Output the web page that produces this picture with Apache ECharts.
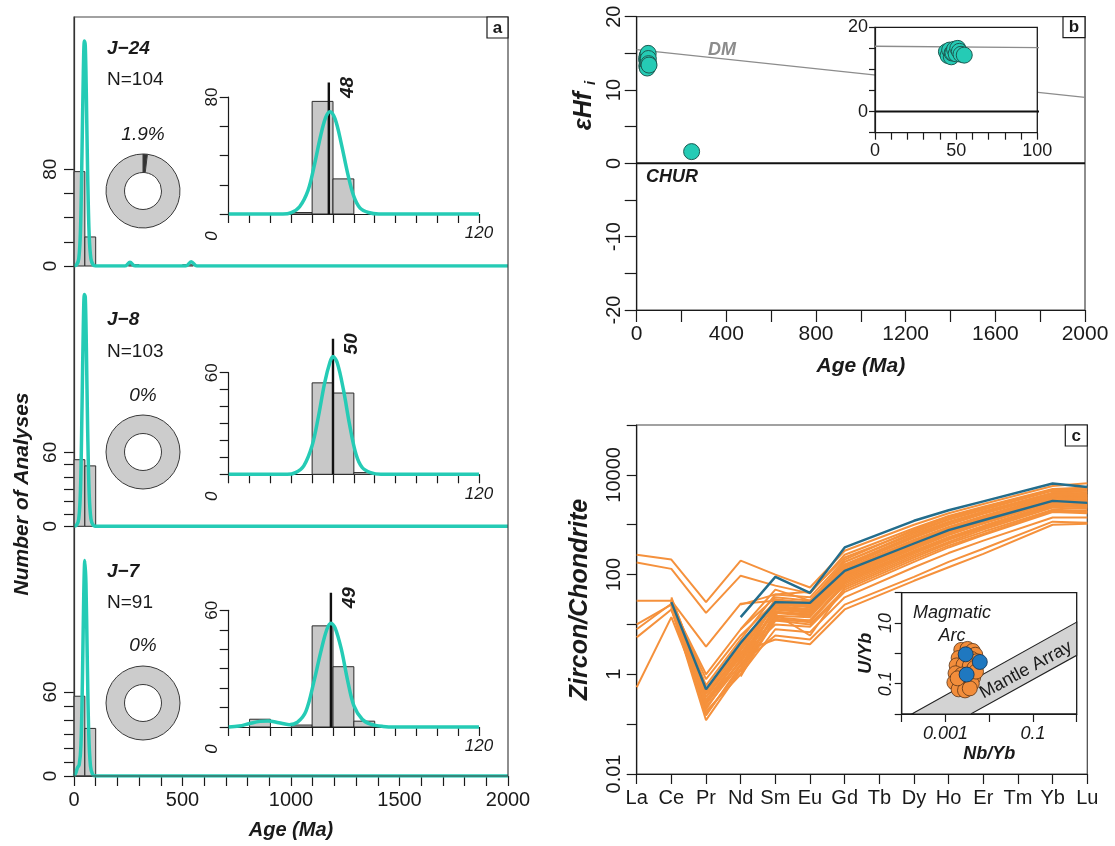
<!DOCTYPE html>
<html>
<head>
<meta charset="utf-8">
<title>Zircon U-Pb ages, Hf isotopes and REE patterns</title>
<script src="https://cdn.jsdelivr.net/npm/echarts@6/dist/echarts.min.js"></script>
<style>
  html, body { margin: 0; padding: 0; background: #fff; }
  #chart { width: 1115px; height: 846px; }
</style>
</head>
<body>
<div id="chart"></div>
<script>
// ---------- (a) detrital zircon U-Pb ages ----------
const sampleNames = ['J\u221224', 'J\u22128', 'J\u22127'];
const sampleN = [104, 103, 91];
const olderPct = [1.9, 0, 0];          // grains older than 100 Ma, %
const peakAges = [48, 50, 49];         // weighted mean ages, Ma

const mainBinWidth = 50;               // Ma
const j24MainCounts = [78, 24, 0, 0, 0, 1, 0, 0, 0, 0, 1];
const j8MainCounts = [54, 49];
const j7MainCounts = [57, 34];

const insetBinWidth = 10;              // Ma
const j24InsetCounts = [0, 0, 0, 1, 77, 24];
const j8InsetCounts = [0, 0, 0, 0, 54, 48, 1];
const j7InsetCounts = [0, 4, 0, 1, 52, 31, 3];

// probability density curves, [age (Ma), density scaled to counts]
const j24MainKde = [[0,0],[12,1],[22,6],[30,30],[37,95],[43,160],[48,186],[52,182],[57,140],[63,75],[70,25],[78,6],[88,1],[100,0],[235,0],[258,3],[282,0],[515,0],[540,3.5],[566,0],[2000,0]];
const j8MainKde = [[0,0],[12,1],[22,6],[30,30],[37,97],[43,163],[48,188],[52,186],[57,145],[63,78],[70,26],[78,6],[88,1],[100,0],[2000,0]];
const j7MainKde = [[0,0],[8,2],[16,6],[24,8],[32,22],[39,70],[45,130],[50,154],[55,138],[61,85],[68,30],[76,7],[86,1],[100,0],[2000,0]];
const j24InsetKde = [[0,0],[26,0],[30,1],[34,5],[38,16],[41,33],[44,53],[46.5,66],[48.5,70],[51,65],[54,48],[57,28],[60,12],[63,4],[67,1],[72,0],[120,0]];
const j8InsetKde = [[0,0],[28,0],[32,1],[36,5],[40,17],[43,34],[46,54],[48.5,66],[50,69.5],[52,66],[55,50],[58,29],[61,12],[64,4],[68,1],[73,0],[120,0]];
const j7InsetKde = [[0,0],[5,0.5],[10,1.8],[15,2.9],[19,3.1],[24,2.2],[29,1.2],[33,2.5],[37,8],[41,24],[44,38],[47,50],[49,53.3],[51,51],[54,40],[57,24],[60,11],[64,4],[68,1.5],[74,0.3],[80,0],[120,0]];

const ageTickLabels = [0, 500, 1000, 1500, 2000];
const countTicks24 = [0, 20, 40, 60, 80];
const countTicks = [0, 10, 20, 30, 40, 50, 60];
const countLabels24 = [0, 80];
const countLabels = [0, 60];
const insetAgeLabels = [120];

// ---------- (b) Hf isotopes ----------
const hfAges = [44, 45, 46, 47, 47.5, 48, 49, 50, 51, 52, 53, 55, 245];
const hfEps  = [14.2, 13.3, 14.6, 13.0, 13.9, 14.0, 14.8, 13.7, 15.0, 14.3, 13.6, 13.4, 1.6];
const dmAges = [0, 2000];
const dmEps = [15.5, 9.0];
const churAges = [0, 2000];
const churEps = [0, 0];
const hfAgeLabels = [0, 400, 800, 1200, 1600, 2000];
const hfEpsLabels = [-20, -10, 0, 10, 20];
const hfInsetAgeLabels = [0, 50, 100];
const hfInsetEpsLabels = [0, 20];

// ---------- (c) chondrite-normalised REE ----------
const reeElements = ['La','Ce','Pr','Nd','Sm','Eu','Gd','Tb','Dy','Ho','Er','Tm','Yb','Lu'];
const reeAxisLabels = [0.01, 1, 100, 10000];
const reeOrange = [
  [250, 200, 28, 190, 100, 55, 300, null, 1000, 1700, 2600, null, 6000, 6800],
  [175, 130, 17, 95, 60, 42, 250, null, 850, 1500, 2300, null, 5200, 5600],
  [30, 30, 3.6, 26, 30, 28, 180, null, 700, 1250, 2000, null, 4800, 4500],
  [10, 25, 1.0, 8, 35, 30, 160, null, 600, 1100, 1800, null, 4200, 4000],
  [8, 26, 0.8, 6, 28, 25, 130, null, 500, 900, 1500, null, 3800, 3600],
  [5.5, 20, 0.45, 4, 22, 20, 110, null, 420, 780, 1300, null, 3300, 3200],
  [0.55, 14, 0.25, 2.5, 18, 16, 90, null, 350, 650, 1100, null, 2900, 2800],
  [null, 32, 0.6, 5, 40, 35, 200, null, 800, 1400, 2200, null, 5000, 5200],
  [null, 28, 0.35, 3, 25, 22, 120, null, 450, 850, 1400, null, 3500, 3400],
  [null, 24, 0.2, 2, 20, 18, 100, null, 380, 700, 1200, null, 3100, 3000],
  [null, 30, 0.15, 1.5, 15, 14, 80, null, 300, 560, 950, null, 2600, 2500],
  [null, 22, 0.12, 1.2, 12, 12, 60, null, 240, 450, 800, null, 2200, 2100],
  [null, 26, 0.3, 2.2, 10, 9, 45, null, 180, 350, 620, null, 1800, 1700],
  [null, 35, 0.5, 3.5, 30, 26, 140, null, 550, 1000, 1650, null, 4000, 3800],
  [null, 27, 0.28, 1.8, 22, 20, 95, null, 360, 680, 1150, null, 3000, 2900],
  [null, 20, 0.18, 1.0, 8, 7, 35, null, 140, 270, 480, null, 1400, 1400],
  [null, 33, 0.4, 2.8, 5, 4, 20, null, 75, 140, 260, null, 1000, 1050],
  [null, 29, 0.22, 1.6, 6, 5, 25, null, 90, 180, 330, null, 1150, 1100],
  [null, null, null, 1.1, 18, 15, 85, null, 330, 620, 1050, null, 2800, 2700],
  [null, null, null, 0.9, 14, 12, 70, null, 280, 520, 900, null, 2400, 2300],
  [null, null, null, 1.4, 24, 20, 105, null, 400, 740, 1250, null, 3200, 3100],
  [null, null, null, 2.0, 28, 24, 125, null, 470, 880, 1450, null, 3600, 3500],
  [null, null, null, 1.2, 16, 6, 55, null, 220, 420, 720, null, 2000, 1900],
  [null, null, null, 8, 50, 30, 180, null, 650, 1150, 1850, null, 4400, 4300],
  [null, null, null, 25, 40, 45, 220, null, 750, 1300, 2100, null, 5000, 4800],
  [null, null, null, 1.0, 12, 10, 50, null, 200, 380, 650, null, 1900, 1800],
  [null, 25, 0.35, 2.6, 26, 23, 115, null, 430, 800, 1330, null, 3400, 3300],
  [null, 23, 0.25, 1.9, 21, 19, 100, null, 370, 690, 1150, null, 3050, 2950],
  [null, 31, 0.45, 3.2, 32, 27, 150, null, 560, 1020, 1700, null, 4100, 3900],
  [null, 21, 0.16, 1.3, 17, 15, 75, null, 290, 550, 930, null, 2500, 2450],
  [null, 28, 0.3, 2.4, 13, 11, 65, null, 260, 500, 860, null, 2350, 2250],
  [null, null, null, 1.7, 20, 17, 90, null, 340, 640, 1080, null, 2850, 2750]
];
const reeBlue = [
  [null, 28, 0.5, 4.3, 28, 27, 118, null, 420, 780, 1230, null, 3000, 2740],
  [null, null, null, 14, 90, 43, 350, null, 1200, 1950, 2950, null, 6700, 5700]
];

// U/Yb vs Nb/Yb discrimination
const arcNbYb = [0.0023, 0.0032, 0.0042, 0.0048, 0.0020, 0.0030, 0.0040, 0.0052, 0.0018, 0.0026, 0.0036, 0.0046, 0.0017, 0.0024, 0.0033, 0.0043, 0.0016, 0.0022, 0.0030, 0.0040, 0.0020, 0.0028, 0.0036, 0.0019, 0.0050];
const arcUYb  = [1.3, 1.4, 1.2, 0.9, 0.7, 0.75, 0.65, 0.55, 0.4, 0.42, 0.38, 0.33, 0.22, 0.2, 0.18, 0.16, 0.11, 0.1, 0.09, 0.1, 0.065, 0.06, 0.07, 0.15, 0.25];
const blueNbYb = [0.0029, 0.0061, 0.00305];
const blueUYb  = [0.93, 0.52, 0.2];
const mantleNbYb = [0.00017, 1, 1, 0.0038];
const mantleUYb  = [0.01, 10.7, 0.86, 0.01];
const discNbYbLabels = [0.001, 0.1];
const discUYbLabels = [0.1, 10];

// ---------- styling ----------
const FF = '"Liberation Sans", Arial, Helvetica, sans-serif';
const ink = '#1a1a1a';
const frameColor = '#444';
const teal = '#25cbb5';
const tealEdge = '#1d5a52';
const orange = '#f5913c';
const deepBlue = '#236d8c';
const font = (size, weight, style) => `${style || 'normal'} ${weight || 'normal'} ${size}px ${FF}`;

function merge(a, b) {
  const out = Object.assign({}, a);
  for (const k in b) {
    if (b[k] && typeof b[k] === 'object' && !Array.isArray(b[k]) && typeof a[k] === 'object' && a[k] && !Array.isArray(a[k])) {
      out[k] = merge(a[k], b[k]);
    } else out[k] = b[k];
  }
  return out;
}
function valueAxis(gridIndex, min, max, extra) {
  return merge({
    gridIndex, type: 'value', min, max,
    axisLine: { show: true, onZero: false, lineStyle: { color: ink, width: 1.2 } },
    axisTick: { show: true, length: 10, lineStyle: { color: ink, width: 1.2 } },
    axisLabel: { color: ink, fontFamily: FF, fontSize: 20, formatter: v => String(v) },
    splitLine: { show: false }
  }, extra || {});
}
function logLabel(list) {
  return v => {
    const hit = list.find(t => Math.abs(Math.log10(t) - Math.log10(v)) < 1e-6);
    return hit === undefined ? '' : String(hit);
  };
}
const zip = (xs, ys) => xs.map((x, i) => [x, ys[i]]);

// ---------- layout (pixels) ----------
const aMainLayout = [
  { top: 17, height: 249, yMax: 205.8, ticks: countTicks24, labels: countLabels24 },
  { top: 266, height: 260.3, yMax: 211.1, ticks: countTicks, labels: countLabels },
  { top: 526.3, height: 249.7, yMax: 178.4, ticks: countTicks, labels: countLabels }
];
const aInsetLayout = [
  { top: 97, height: 117, yMax: 80, ticks: countTicks24, lineTop: 90 },
  { top: 372.7, height: 101.6, yMax: 60, ticks: countTicks, lineTop: 80 },
  { top: 610.3, height: 116.7, yMax: 60, ticks: countTicks, lineTop: 69 }
];
const textLayout = { labelX: 107, nameY: [49, 320, 572], nY: [80, 352, 603], pctY: [135, 396, 646], donutY: [191, 452, 703], donutX: 143 };

const grids = [
  ...aMainLayout.map(l => ({ left: 74, top: l.top, width: 434, height: l.height })),
  ...aInsetLayout.map(l => ({ left: 228.7, top: l.top, width: 250.3, height: l.height })),
  { left: 636.7, top: 16.7, width: 448.3, height: 293.3, show: true, borderColor: frameColor, borderWidth: 1.2 },
  { left: 875, top: 27.3, width: 162.3, height: 105.4, show: true, borderColor: ink, borderWidth: 1.3, backgroundColor: '#fff', z: 5 },
  { left: 636.7, top: 425, width: 450.6, height: 349, show: true, borderColor: frameColor, borderWidth: 1.2 },
  { left: 901.7, top: 592.7, width: 175, height: 121.3, show: true, borderColor: ink, borderWidth: 1.3, backgroundColor: '#fff', z: 5 }
];

const axisNameStyle = (size) => ({ fontFamily: FF, fontSize: size, fontWeight: 'bold', fontStyle: 'italic', color: ink });

const xAxes = [
  valueAxis(0, 0, 2000, { show: false }),
  valueAxis(1, 0, 2000, { show: false }),
  valueAxis(2, 0, 2000, {
    interval: 100,
    axisLabel: { customValues: ageTickLabels, margin: 14 },
    name: 'Age (Ma)', nameLocation: 'middle', nameGap: 44, nameTextStyle: axisNameStyle(20)
  }),
  ...[3, 4, 5].map(g => valueAxis(g, 0, 120, {
    interval: 10,
    axisTick: { length: 9 },
    axisLabel: { customValues: insetAgeLabels, fontSize: 17, fontStyle: 'italic', margin: 11 }
  })),
  valueAxis(6, 0, 2000, {
    interval: 200,
    axisTick: { length: 12 },
    axisLabel: { customValues: hfAgeLabels, fontSize: 21, margin: 14 },
    name: 'Age (Ma)', nameLocation: 'middle', nameGap: 46, nameTextStyle: axisNameStyle(21)
  }),
  valueAxis(7, 0, 100, {
    interval: 10, z: 6,
    axisTick: { length: 7 },
    axisLabel: { customValues: hfInsetAgeLabels, fontSize: 18, margin: 9 }
  }),
  {
    gridIndex: 8, type: 'category', data: reeElements, boundaryGap: false,
    axisLine: { show: true, lineStyle: { color: ink, width: 1.2 } },
    axisTick: { show: true, length: 10, interval: 0, lineStyle: { color: ink, width: 1.2 } },
    axisLabel: { interval: 0, color: ink, fontFamily: FF, fontSize: 20, margin: 14 },
    splitLine: { show: false }
  },
  {
    gridIndex: 9, type: 'log', logBase: 10, min: 0.0001, max: 1, z: 6,
    axisLine: { show: true, onZero: false, lineStyle: { color: ink, width: 1.2 } },
    axisTick: { show: true, length: 8, lineStyle: { color: ink, width: 1.2 } },
    axisLabel: { color: ink, fontFamily: FF, fontSize: 18, fontStyle: 'italic', margin: 11, formatter: logLabel(discNbYbLabels), showMinLabel: true, showMaxLabel: true },
    splitLine: { show: false }, minorTick: { show: false },
    name: 'Nb/Yb', nameLocation: 'middle', nameGap: 31, nameTextStyle: axisNameStyle(18)
  }
];

const yAxes = [
  ...aMainLayout.map((l, i) => valueAxis(i, 0, l.yMax, {
    axisTick: { customValues: l.ticks },
    axisLabel: { customValues: l.labels, rotate: 90, fontSize: 19, margin: 14 }
  })),
  ...aInsetLayout.map((l, i) => valueAxis(3 + i, 0, l.yMax, {
    axisTick: { customValues: l.ticks, length: 9 },
    axisLabel: { customValues: [l.yMax], rotate: 90, fontSize: 17, margin: 8 }
  })),
  valueAxis(6, -20, 20, {
    interval: 5,
    axisTick: { length: 12 },
    axisLabel: { customValues: hfEpsLabels, rotate: 90, fontSize: 20, margin: 12 }
  }),
  valueAxis(7, -5, 20, {
    interval: 5, z: 6,
    axisTick: { length: 6 },
    axisLabel: { customValues: hfInsetEpsLabels, fontSize: 18, margin: 7 }
  }),
  {
    gridIndex: 8, type: 'log', logBase: 10, min: 0.01, max: 100000,
    axisLine: { show: true, onZero: false, lineStyle: { color: ink, width: 1.2 } },
    axisTick: { show: true, length: 10, lineStyle: { color: ink, width: 1.2 } },
    axisLabel: { color: ink, fontFamily: FF, fontSize: 20, rotate: 90, margin: 12, formatter: logLabel(reeAxisLabels), showMinLabel: true, showMaxLabel: true },
    splitLine: { show: false }, minorTick: { show: false },
    name: 'Zircon/Chondrite', nameLocation: 'middle', nameRotate: 90, nameGap: 44, nameTextStyle: axisNameStyle(25)
  },
  {
    gridIndex: 9, type: 'log', logBase: 10, min: 0.01, max: 100, z: 6,
    axisLine: { show: true, onZero: false, lineStyle: { color: ink, width: 1.2 } },
    axisTick: { show: true, length: 7, lineStyle: { color: ink, width: 1.2 } },
    axisLabel: { color: ink, fontFamily: FF, fontSize: 18, fontStyle: 'italic', rotate: 90, margin: 7, formatter: logLabel(discUYbLabels) },
    splitLine: { show: false }, minorTick: { show: false },
    name: 'U/Yb', nameLocation: 'middle', nameRotate: 90, nameGap: 27, nameTextStyle: axisNameStyle(18)
  }
];

// ---------- series ----------
function histSeries(counts, width, g) {
  const data = [];
  counts.forEach((c, i) => { if (c > 0) data.push([i * width, (i + 1) * width, c]); });
  return {
    type: 'custom', xAxisIndex: g, yAxisIndex: g, data, silent: true, z: 2,
    encode: { x: [0, 1], y: 2 },
    renderItem(params, api) {
      const p0 = api.coord([api.value(0), 0]);
      const p1 = api.coord([api.value(1), api.value(2)]);
      return {
        type: 'rect',
        shape: { x: p0[0], y: p1[1], width: p1[0] - p0[0], height: p0[1] - p1[1] },
        style: { fill: '#c8c8c8', stroke: '#2a2a2a', lineWidth: 1 }
      };
    }
  };
}
function kdeSeries(points, g, width, clip) {
  return {
    type: 'line', xAxisIndex: g, yAxisIndex: g, data: points, smooth: 0.35, clip,
    symbol: 'none', showSymbol: false, silent: true, z: 4,
    lineStyle: { color: teal, width: width }
  };
}
function meanLine(age, top, g) {
  return {
    type: 'line', xAxisIndex: g, yAxisIndex: g, data: [[age, 0], [age, top]],
    symbol: 'none', clip: false, silent: true, z: 3,
    lineStyle: { color: '#111', width: 2.4 }
  };
}
function donut(i) {
  return {
    type: 'pie', center: [textLayout.donutX, textLayout.donutY[i]], radius: [18.5, 37],
    startAngle: 90, clockwise: true, silent: true, z: 3,
    label: { show: false }, labelLine: { show: false }, emphasis: { disabled: true },
    itemStyle: { borderColor: '#3a3a3a', borderWidth: 1 },
    data: [
      { value: olderPct[i], itemStyle: { color: '#333333' } },
      { value: 100 - olderPct[i], itemStyle: { color: '#cccccc' } }
    ]
  };
}

const mainCounts = [j24MainCounts, j8MainCounts, j7MainCounts];
const insetCounts = [j24InsetCounts, j8InsetCounts, j7InsetCounts];
const mainKde = [j24MainKde, j8MainKde, j7MainKde];
const insetKde = [j24InsetKde, j8InsetKde, j7InsetKde];

const series = [];
for (let i = 0; i < 3; i++) {
  series.push(histSeries(mainCounts[i], mainBinWidth, i));
  series.push(kdeSeries(mainKde[i], i, 3.5, true));
  series.push(histSeries(insetCounts[i], insetBinWidth, 3 + i));
  series.push(meanLine(peakAges[i], aInsetLayout[i].lineTop, 3 + i));
  series.push(kdeSeries(insetKde[i], 3 + i, 3.5, false));
  series.push(donut(i));
}

// panel b
const hfPoints = zip(hfAges, hfEps);
function hfSeries(g, z) {
  return [
    { type: 'line', xAxisIndex: g, yAxisIndex: g, data: zip(dmAges, dmEps), symbol: 'none', silent: true, z,
      lineStyle: { color: '#8c8c8c', width: 1.3 } },
    { type: 'line', xAxisIndex: g, yAxisIndex: g, data: zip(churAges, churEps), symbol: 'none', silent: true, z,
      lineStyle: { color: '#111', width: 2 } },
    { type: 'scatter', xAxisIndex: g, yAxisIndex: g, data: hfPoints, symbolSize: 16, silent: true, z: z + 1,
      itemStyle: { color: teal, borderColor: tealEdge, borderWidth: 1, opacity: 1 } }
  ];
}
series.push(...hfSeries(6, 2));
series.push(...hfSeries(7, 6));

// panel c
reeOrange.forEach(row => series.push({
  type: 'line', xAxisIndex: 8, yAxisIndex: 8, data: row, connectNulls: true,
  symbol: 'none', silent: true, z: 2, lineStyle: { color: orange, width: 2 }
}));
reeBlue.forEach(row => series.push({
  type: 'line', xAxisIndex: 8, yAxisIndex: 8, data: row, connectNulls: true,
  symbol: 'none', silent: true, z: 3, lineStyle: { color: deepBlue, width: 2.4 }
}));
series.push({
  type: 'custom', xAxisIndex: 9, yAxisIndex: 9, data: [0], silent: true, z: 6,
  renderItem(params, api) {
    const pts = mantleNbYb.map((x, i) => api.coord([x, mantleUYb[i]]));
    return { type: 'polygon', shape: { points: pts }, style: { fill: '#d3d3d3', stroke: '#222', lineWidth: 1.1 } };
  }
});
series.push({
  type: 'scatter', xAxisIndex: 9, yAxisIndex: 9, data: zip(arcNbYb, arcUYb), symbolSize: 15, silent: true, z: 7,
  itemStyle: { color: '#f28d3b', borderColor: '#5a3518', borderWidth: 0.8, opacity: 1 }
});
series.push({
  type: 'scatter', xAxisIndex: 9, yAxisIndex: 9, data: zip(blueNbYb, blueUYb), symbolSize: 15, silent: true, z: 8,
  itemStyle: { color: '#1f78c0', borderColor: '#10304f', borderWidth: 0.8, opacity: 1 }
});

const chart = echarts.init(document.getElementById('chart'), null, { renderer: 'canvas', width: 1115, height: 846 });
chart.setOption({
  animation: false,
  backgroundColor: '#fff',
  grid: grids,
  xAxis: xAxes,
  yAxis: yAxes,
  series
});

// ---------- annotations ----------
function txt(text, x, y, f, opts) {
  opts = opts || {};
  return {
    type: 'text', x, y, rotation: opts.rotation || 0, z: 100, silent: true,
    style: {
      text, font: f, fill: opts.fill || ink,
      align: opts.align || 'center', verticalAlign: opts.vAlign || 'middle',
      textAlign: opts.align || 'center', textVerticalAlign: opts.vAlign || 'middle'
    }
  };
}
function box(x, y, w, h, letter) {
  return [
    { type: 'rect', z: 100, silent: true, shape: { x, y, width: w, height: h }, style: { fill: '#fff', stroke: ink, lineWidth: 1.2 } },
    txt(letter, x + w / 2, y + h / 2 + 0.5, font(17, 'bold'))
  ];
}

const graphics = [];
// frame of panel a
graphics.push({ type: 'rect', z: 90, silent: true, shape: { x: 74, y: 17, width: 434, height: 759 }, style: { fill: 'none', stroke: frameColor, lineWidth: 1.2 } });
graphics.push(...box(487, 17, 21, 21, 'a'));
graphics.push(...box(1063, 16.7, 22, 21, 'b'));
graphics.push(...box(1065.3, 425, 22, 21, 'c'));

graphics.push(txt('Number of Analyses', 22, 494, font(21, 'bold', 'italic'), { rotation: Math.PI / 2 }));

for (let i = 0; i < 3; i++) {
  graphics.push(txt(sampleNames[i], textLayout.labelX, textLayout.nameY[i], font(19, 'bold', 'italic'), { align: 'left' }));
  graphics.push(txt('N=' + sampleN[i], textLayout.labelX, textLayout.nY[i], font(19), { align: 'left' }));
  graphics.push(txt(olderPct[i] + '%', textLayout.donutX, textLayout.pctY[i], font(19, 'normal', 'italic')));
  const g = 3 + i;
  const top = chart.convertToPixel({ xAxisIndex: g, yAxisIndex: g }, [peakAges[i], aInsetLayout[i].lineTop]);
  graphics.push(txt(String(peakAges[i]), top[0] + 19, top[1] + 5, font(19, 'bold', 'italic'), { rotation: Math.PI / 2 }));
  const origin = chart.convertToPixel({ xAxisIndex: g, yAxisIndex: g }, [0, 0]);
  graphics.push(txt('0', origin[0] - 16, origin[1] + 22, font(17, 'normal', 'italic'), { rotation: Math.PI / 2 }));
}

// panel b labels
graphics.push(txt('\u03b5Hf', 584, 111, font(25, 'bold', 'italic'), { rotation: Math.PI / 2 }));
graphics.push(txt('i', 591, 83, font(15, 'bold', 'italic'), { rotation: Math.PI / 2 }));
graphics.push(txt('DM', 722, 50, font(18, 'bold', 'italic'), { fill: '#8c8c8c' }));
graphics.push(txt('CHUR', 672, 177, font(18, 'bold', 'italic')));

// panel c inset labels
graphics.push(txt('Magmatic', 952, 613, font(18, 'normal', 'italic')));
graphics.push(txt('Arc', 952, 636, font(18, 'normal', 'italic')));
graphics.push(txt('Mantle Array', 1026, 670, font(18), { rotation: 0.5 }));

chart.setOption({ graphic: graphics });
</script>
</body>
</html>
